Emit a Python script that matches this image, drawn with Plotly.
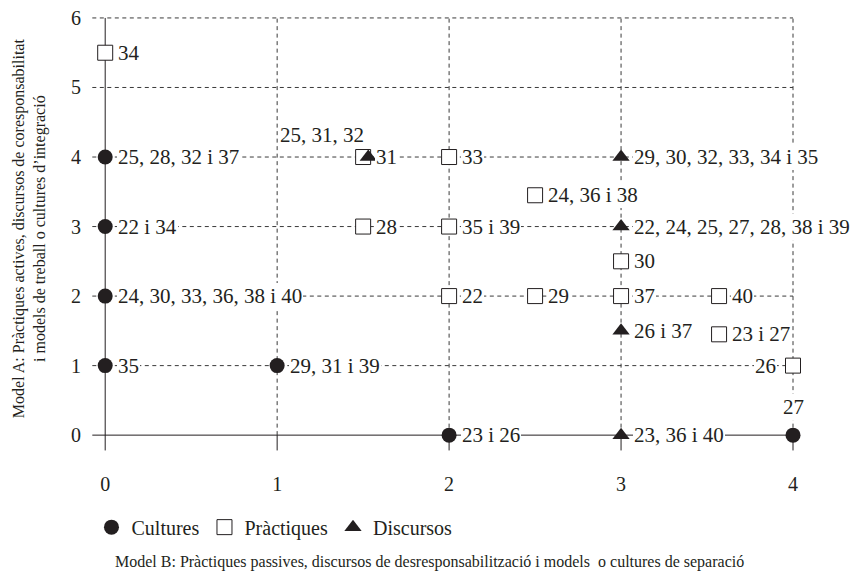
import plotly.graph_objects as go

# ---------------- data ----------------
x_ticks = [0, 1, 2, 3, 4]
y_ticks = [0, 1, 2, 3, 4, 5, 6]

cult_x = [0, 0, 0, 0, 1, 2, 4]
cult_y = [4, 3, 2, 1, 1, 0, 0]
cult_labels = ["25, 28, 32 i 37", "22 i 34", "24, 30, 33, 36, 38 i 40", "35",
               "29, 31 i 39", "23 i 26", "27"]
cult_place = ["right", "right", "right", "right", "right", "right", "above"]

prac_x = [0, 1.5, 1.5, 2, 2, 2, 2.5, 2.5, 3, 3, 3.57, 3.57, 4]
prac_y = [5.5, 4, 3, 4, 3, 2, 3.45, 2, 2.5, 2, 2, 1.45, 1]
prac_labels = ["34", "25, 31, 32", "28", "33", "35 i 39", "22", "24, 36 i 38",
               "29", "30", "37", "40", "23 i 27", "26"]
prac_place = ["right", "above-left", "right", "right", "right", "right", "right",
              "right", "right", "right", "right", "right", "left"]

disc_x = [1.53, 3, 3, 3, 3]
disc_y = [4, 4, 3, 1.5, 0]
disc_labels = ["31", "29, 30, 32, 33, 34 i 35", "22, 24, 25, 27, 28, 38 i 39",
               "26 i 37", "23, 36 i 40"]
disc_place = ["right-tight", "right", "right", "right", "right"]

x_title = "Model B: Pràctiques passives, discursos de desresponsabilització i models \u00a0o cultures de separació"
y_title = "Model A: Pràctiques actives, discursos de coresponsabilitat<br>i models de treball o cultures d\u2019integració"

# ---------------- style ----------------
FONT = "Liberation Serif, DejaVu Serif, serif"
INK = "#231f20"
GRID = "#3a3a3a"
DASH = "4px,3.5px"

PLACE = {
    "right": dict(xanchor="left", yanchor="middle", xshift=12, yshift=0),
    "right-tight": dict(xanchor="left", yanchor="middle", xshift=7, yshift=0),
    "left": dict(xanchor="right", yanchor="middle", xshift=-16, yshift=0),
    "above": dict(xanchor="center", yanchor="middle", xshift=0, yshift=28),
    "above-left": dict(xanchor="right", yanchor="middle", xshift=2, yshift=22),
}

fig = go.Figure()

fig.add_trace(go.Scatter(
    x=cult_x, y=cult_y, mode="markers", name="Cultures",
    marker=dict(symbol="circle", size=15, color=INK, line=dict(width=0)),
    cliponaxis=False))
fig.add_trace(go.Scatter(
    x=prac_x, y=prac_y, mode="markers", name="Pràctiques",
    marker=dict(symbol="square", size=15, color="white", line=dict(width=1, color=INK)),
    cliponaxis=False))
fig.add_trace(go.Scatter(
    x=disc_x, y=disc_y, mode="markers", name="Discursos",
    marker=dict(symbol="triangle-up", size=15, color=INK, line=dict(width=0)),
    cliponaxis=False))

# grid / axes as shapes derived from tick lists
x_lo = -0.075
shapes = []
for yv in y_ticks:
    if yv == 0:
        shapes.append(dict(type="line", xref="x", yref="y", x0=x_lo, x1=max(x_ticks), y0=yv, y1=yv,
                           line=dict(color=INK, width=1), layer="below"))
    else:
        shapes.append(dict(type="line", xref="x", yref="y", x0=x_lo, x1=max(x_ticks), y0=yv, y1=yv,
                           line=dict(color=GRID, width=1, dash=DASH), layer="below"))
for xv in x_ticks:
    if xv == 0:
        shapes.append(dict(type="line", xref="x", yref="y", x0=xv, x1=xv, y0=-0.22, y1=max(y_ticks),
                           line=dict(color=INK, width=1), layer="below"))
    else:
        shapes.append(dict(type="line", xref="x", yref="y", x0=xv, x1=xv, y0=0, y1=max(y_ticks),
                           line=dict(color=GRID, width=1, dash=DASH), layer="below"))
        shapes.append(dict(type="line", xref="x", yref="y", x0=xv, x1=xv, y0=-0.22, y1=0,
                           line=dict(color=INK, width=1), layer="below"))

annotations = []
for xs, ys, labs, places in [(cult_x, cult_y, cult_labels, cult_place),
                             (prac_x, prac_y, prac_labels, prac_place),
                             (disc_x, disc_y, disc_labels, disc_place)]:
    for xv, yv, t, p in zip(xs, ys, labs, places):
        annotations.append(dict(x=xv, y=yv, xref="x", yref="y", text=t, showarrow=False,
                                bgcolor="white", borderpad=1, borderwidth=0,
                                font=dict(family=FONT, size=21, color=INK), **PLACE[p]))

# axis titles
annotations.append(dict(x=0.457, y=0, xref="paper", yref="paper", text=x_title, showarrow=False,
                        xanchor="center", yanchor="middle", yshift=-106,
                        font=dict(family=FONT, size=16, color=INK)))
annotations.append(dict(x=0, y=0.512, xref="paper", yref="paper", text=y_title, showarrow=False,
                        xanchor="center", yanchor="middle", xshift=-59, textangle=-90,
                        align="center", font=dict(family=FONT, size=16, color=INK)))

fig.update_layout(
    width=858, height=573, autosize=False,
    margin=dict(l=80, r=30, t=3, b=125, autoexpand=False),
    paper_bgcolor="white", plot_bgcolor="white",
    font=dict(family=FONT, size=20, color=INK),
    shapes=shapes, annotations=annotations,
    showlegend=True,
    legend=dict(orientation="h", xref="container", yref="container",
                x=0.0973, y=0.094, xanchor="left", yanchor="middle",
                font=dict(family=FONT, size=20, color=INK),
                itemsizing="trace", bgcolor="rgba(0,0,0,0)"),
    xaxis=dict(range=[-0.1, 4.25], tickvals=x_ticks, ticktext=[str(v) for v in x_ticks],
               showgrid=False, zeroline=False, showline=False, ticks="", automargin=False,
               ticklabeloverflow="allow",
               ticklabelstandoff=14, tickfont=dict(family=FONT, size=20, color=INK)),
    yaxis=dict(range=[-0.3, 6.1], tickvals=y_ticks, ticktext=[str(v) for v in y_ticks],
               showgrid=False, zeroline=False, showline=False, ticks="", automargin=False,
               ticklabeloverflow="allow",
               ticklabelstandoff=6, tickfont=dict(family=FONT, size=20, color=INK)),
)

fig.write_html("out.html")
